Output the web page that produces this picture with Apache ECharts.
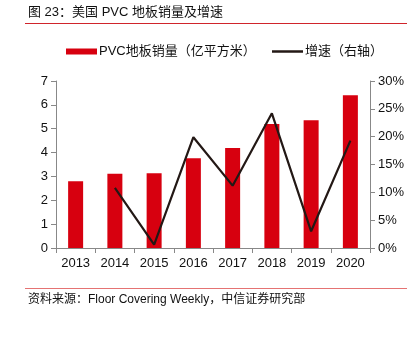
<!DOCTYPE html>
<html><head><meta charset="utf-8">
<script src="https://cdn.jsdelivr.net/npm/echarts@6/dist/echarts.min.js"></script>
<style>html,body{margin:0;padding:0;background:#fff}#c{width:415px;height:343px}</style>
</head><body><div id="c"></div>
<script>
const categories = ['2013','2014','2015','2016','2017','2018','2019','2020'];
const salesValues = [2.8, 3.11, 3.13, 3.76, 4.19, 5.2, 5.36, 6.4];
const growthValues = [null, 10.8, 0.6, 19.9, 11.2, 24.2, 3.0, 19.3];
const leftTicks = [0,1,2,3,4,5,6,7];
const rightTicks = [0,5,10,15,20,25,30];
const FONT = '"Liberation Sans", "Noto Sans CJK SC", sans-serif';

const chart = echarts.init(document.getElementById('c'));
chart.setOption({
  animation: false,
  textStyle: {fontFamily: FONT},
  graphic: [
    {type:'text', left:28, top:6, style:{text:'图 23：美国 PVC 地板销量及增速', font:'13px ' + FONT, fill:'#111'}},
    {type:'line', shape:{x1:25,y1:23.5,x2:407,y2:23.5}, style:{stroke:'#d0242b', lineWidth:1}},
    {type:'line', shape:{x1:25,y1:288.5,x2:407,y2:288.5}, style:{stroke:'#e57373', lineWidth:1}},
    {type:'text', left:28, top:294, style:{text:'资料来源：Floor Covering Weekly，中信证券研究部', font:'12px ' + FONT, fill:'#111'}}
  ],
  legend: [{
    top: 45, left: 66, padding: 0, itemWidth: 31, itemHeight: 6, itemGap: 2,
    textStyle: {fontSize: 13, color:'#111', fontFamily: FONT, padding:[0,0,0,-3]},
    data: [{name:'PVC地板销量（亿平方米）', icon:'rect'}]
  }, {
    top: 45, left: 272, padding: 0, itemWidth: 31, itemHeight: 2.5, itemGap: 2,
    textStyle: {fontSize: 13, color:'#111', fontFamily: FONT, padding:[0,0,0,-3]},
    data: [{name:'增速（右轴）', icon:'rect'}]
  }],
  grid: {left:56, right:45, top:81, bottom:95},
  xAxis: {
    type:'category', data: categories,
    axisLine:{lineStyle:{color:'#888'}},
    axisTick:{show:true, length:5, lineStyle:{color:'#888'}},
    axisLabel:{color:'#111', fontSize:13, margin:9}
  },
  yAxis: [
    {type:'value', min:0, max:7, interval:1,
     axisLine:{show:true, lineStyle:{color:'#888'}},
     axisTick:{show:true, length:5, lineStyle:{color:'#888'}},
     axisLabel:{color:'#111', fontSize:13, margin:8},
     splitLine:{show:false}},
    {type:'value', min:0, max:30, interval:5,
     axisLine:{show:true, lineStyle:{color:'#888'}},
     axisTick:{show:true, length:5, lineStyle:{color:'#888'}},
     axisLabel:{color:'#111', fontSize:13, margin:8, formatter:'{value}%'},
     splitLine:{show:false}}
  ],
  series: [
    {name:'PVC地板销量（亿平方米）', type:'bar', data: salesValues, barWidth:15,
     itemStyle:{color:'#d7000f'}},
    {name:'增速（右轴）', type:'line', yAxisIndex:1, data: growthValues,
     symbol:'none', lineStyle:{color:'#231815', width:2.2}, itemStyle:{color:'#231815'}}
  ]
});
</script></body></html>
